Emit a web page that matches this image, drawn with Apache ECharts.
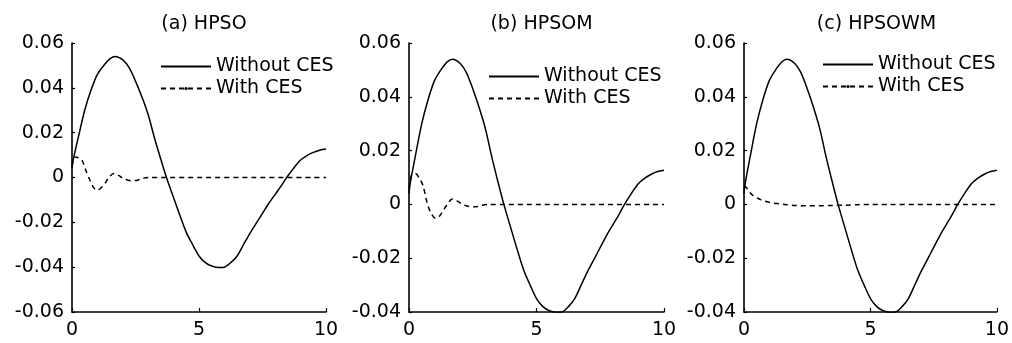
<!DOCTYPE html>
<html>
<head>
<meta charset="utf-8">
<script src="https://cdn.jsdelivr.net/npm/echarts@6/dist/echarts.min.js"></script>
<style>
  html, body { margin: 0; padding: 0; background: #fff; }
  #chart { width: 1012px; height: 343px; }
</style>
</head>
<body>
<div id="chart"></div>
<script>
// response without CES (same curve in all three panels)
const tWithout = [0, 0.05, 0.25, 0.5, 0.75, 1.0, 1.25, 1.5, 1.7, 2.0, 2.25, 2.5, 2.75, 3.0, 3.25, 3.5, 3.72,
  4.0, 4.25, 4.5, 4.75, 5.0, 5.25, 5.5, 5.8, 6.0, 6.25, 6.5, 6.75, 7.0, 7.25, 7.5, 7.75, 8.0, 8.25, 8.45,
  8.75, 9.0, 9.25, 9.5, 9.75, 10.0];
const vWithout = [0.004, 0.008, 0.018, 0.030, 0.039, 0.046, 0.050, 0.053, 0.054, 0.0525, 0.049, 0.043, 0.036,
  0.028, 0.0175, 0.008, 0.0, -0.009, -0.017, -0.0245, -0.030, -0.035, -0.038, -0.0395, -0.0402, -0.040,
  -0.038, -0.035, -0.030, -0.025, -0.0205, -0.016, -0.0115, -0.0075, -0.0035, 0.0, 0.0045, 0.0078, 0.0098,
  0.0112, 0.0122, 0.0127];

// response with CES, one per method
const tWithA = [0, 0.1, 0.25, 0.4, 0.55, 0.7, 0.85, 1.0, 1.15, 1.3, 1.45, 1.65, 1.85, 2.05, 2.3, 2.55, 2.8, 3.0, 10];
const vWithA = [0.005, 0.0092, 0.0088, 0.0075, 0.003, -0.001, -0.0045, -0.0057, -0.0045, -0.0025, 0, 0.0018,
  0.0008, -0.0006, -0.0014, -0.0013, -0.0003, 0, 0];

const tWithB = [0, 0.1, 0.25, 0.4, 0.55, 0.7, 0.85, 1.05, 1.2, 1.35, 1.5, 1.7, 1.9, 2.1, 2.35, 2.6, 2.85, 3.1, 10];
const vWithB = [0.006, 0.011, 0.0115, 0.0098, 0.007, 0.001, -0.003, -0.0052, -0.0043, -0.0022, 0, 0.002,
  0.0012, 0, -0.0008, -0.0009, -0.0003, 0, 0];

const tWithC = [0, 0.1, 0.25, 0.4, 0.6, 0.8, 1.0, 1.3, 1.6, 2.0, 2.5, 3.0, 3.5, 4.0, 4.5, 5.0, 10];
const vWithC = [0.007, 0.0062, 0.0042, 0.003, 0.002, 0.0013, 0.0008, 0.0003, 0, -0.0004, -0.0005, -0.0005,
  -0.0004, -0.0003, -0.0001, 0, 0];

const titles = ['(a) HPSO', '(b) HPSOM', '(c) HPSOWM'];
const seriesNames = ['Without CES', 'With CES'];
const yMins = [-0.06, -0.04, -0.04];
const yMax = 0.06;
const yStep = 0.02;
const xTicks = [0, 5, 10];

const FONT = 'DejaVu Sans';
const pair = (ts, vs) => ts.map((t, i) => [t, vs[i]]);
const withData = [pair(tWithA, vWithA), pair(tWithB, vWithB), pair(tWithC, vWithC)];
const withoutData = pair(tWithout, vWithout);

// panel layout (px)
const grids = [
  { left: 72, width: 254 },
  { left: 409, width: 255 },
  { left: 744, width: 255 },
];
const legendPos = [
  { left: 160, top: 56 },
  { left: 488, top: 66 },
  { left: 822, top: 54 },
];
// (a) and (c) show a small dot in the middle of the dashed legend line
const dotMarker = [true, false, true];

const chart = echarts.init(document.getElementById('chart'), null, { renderer: 'canvas' });

const axisLine = { show: true, onZero: false, lineStyle: { color: '#000', width: 1.6 } };

const option = {
  animation: false,
  backgroundColor: '#fff',
  title: titles.map((t, i) => ({
    text: t,
    left: grids[i].left + grids[i].width / 2,
    top: 10,
    textAlign: 'center',
    textStyle: { fontFamily: FONT, fontSize: 19, fontWeight: 'normal', color: '#000' },
  })),
  legend: legendPos.map((p, i) => ({
    orient: 'vertical',
    left: p.left,
    top: p.top,
    padding: 0,
    itemGap: 1,
    itemWidth: 50,
    itemHeight: 4,
    selectedMode: false,
    data: [
      { name: seriesNames[0], itemStyle: { opacity: 0 } },
      { name: seriesNames[1], itemStyle: { opacity: dotMarker[i] ? 1 : 0 } },
    ],
    textStyle: { fontFamily: FONT, fontSize: 19, color: '#000', lineHeight: 21 },
  })),
  grid: grids.map(g => ({ left: g.left, width: g.width, top: 43, height: 269 })),
  xAxis: grids.map((g, i) => ({
    gridIndex: i,
    type: 'value',
    min: xTicks[0],
    max: xTicks[xTicks.length - 1],
    interval: 5,
    axisLine,
    axisTick: { show: true, inside: true, length: 4, lineStyle: { color: '#000', width: 1.2 } },
    axisLabel: { color: '#000', fontFamily: FONT, fontSize: 19, margin: 9 },
    splitLine: { show: false },
  })),
  yAxis: grids.map((g, i) => ({
    gridIndex: i,
    type: 'value',
    min: yMins[i],
    max: yMax,
    interval: yStep,
    axisLine,
    axisTick: { show: true, inside: true, length: 3, lineStyle: { color: '#000', width: 1.2 } },
    axisLabel: {
      color: '#000',
      fontFamily: FONT,
      fontSize: 19,
      margin: 8,
      formatter: v => (Math.abs(v) < 1e-9 ? '0' : v.toFixed(2)),
    },
    splitLine: { show: false },
  })),
  series: [],
};

grids.forEach((g, i) => {
  option.series.push({
    name: seriesNames[0],
    type: 'line',
    xAxisIndex: i,
    yAxisIndex: i,
    data: withoutData,
    smooth: 0.3,
    symbol: 'none',
    color: '#000',
    lineStyle: { color: '#000', width: 1.5 },
  });
  option.series.push({
    name: seriesNames[1],
    type: 'line',
    xAxisIndex: i,
    yAxisIndex: i,
    data: withData[i],
    smooth: 0.3,
    symbol: dotMarker[i] ? 'circle' : 'none',
    showSymbol: false,
    color: '#000',
    lineStyle: { color: '#000', width: 1.5, type: [5, 4] },
  });
});

chart.setOption(option);
</script>
</body>
</html>
